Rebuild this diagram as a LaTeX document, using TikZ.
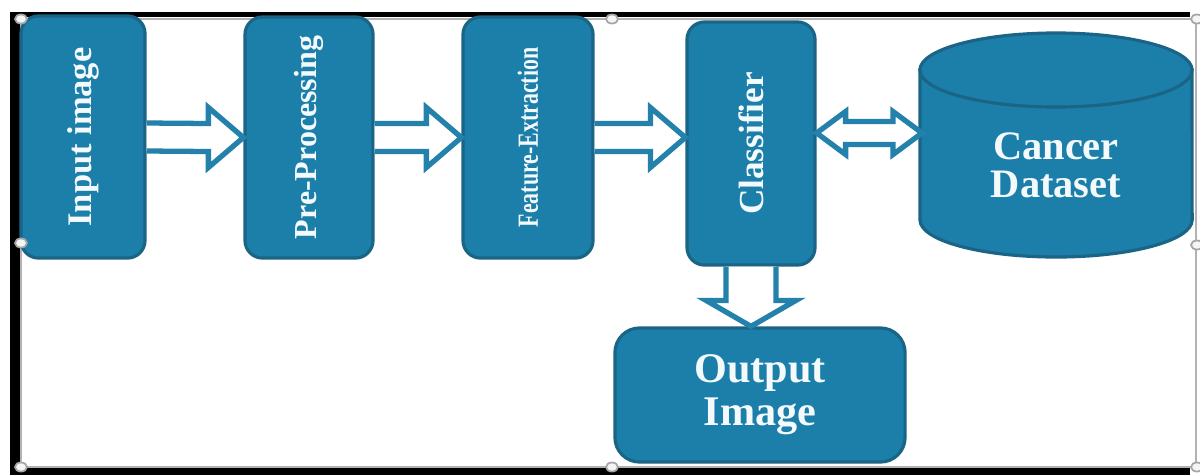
\documentclass[tikz,border=0pt]{standalone}
\usepackage{fontspec}
\setmainfont{Liberation Serif}
\usepackage{graphicx}
\usetikzlibrary{calc}

\definecolor{boxfill}{HTML}{1B7FAA}
\definecolor{boxedge}{HTML}{1A6485}
\definecolor{arrowline}{HTML}{2381AB}
\definecolor{boxtext}{HTML}{F4FAFC}

\begin{document}
\begin{tikzpicture}[x=0.01cm, y=0.01cm,
  stage/.style={draw=boxedge, line width=0.9pt, fill=boxfill, rounded corners=5pt, text=boxtext, inner sep=0pt, font=\bfseries},
  dbbody/.style={draw=boxedge, line width=0.9pt, fill=boxfill},
  hollow/.style={draw=arrowline, line width=1.5pt, fill=white},
  handle/.style={draw=gray!70, fill=gray!8, line width=0.5pt}
]
\useasboundingbox (0,0) rectangle (1200,-475);

% ---------- frame of the screenshot ----------
\fill[black] (10,-12) rectangle (1190,-475);
\fill[white] (20,-17) rectangle (1200,-467);
\draw[gray!60, line width=0.6pt] (21,-19) rectangle (1196,-467);

% ---------- pipeline stages ----------
\node[stage, minimum width=1.24cm, minimum height=2.42cm] (inp) at (83,-137)
  {\rotatebox{90}{\fontsize{9.8}{11}\selectfont Input image}};
\node[stage, minimum width=1.28cm, minimum height=2.41cm] (pre) at (309,-137.5)
  {\rotatebox{90}{\fontsize{9.1}{11}\selectfont Pre-Processing}};
\node[stage, minimum width=1.30cm, minimum height=2.41cm] (feat) at (528,-137.5)
  {\rotatebox{90}{\scalebox{0.75}[1]{\fontsize{8.3}{10}\selectfont Feature-Extraction}}};
\node[stage, minimum width=1.28cm, minimum height=2.43cm] (clf) at (751,-143.5)
  {\rotatebox{90}{\fontsize{10}{12}\selectfont Classifier}};

% database cylinder
\draw[dbbody] (920,-70) -- (920,-220)
  arc[start angle=180, end angle=360, x radius=1.36cm, y radius=0.37cm] -- (1192,-70) -- cycle;
\draw[dbbody] (1056,-70) ellipse [x radius=1.36cm, y radius=0.37cm];
\node[font=\bfseries\fontsize{11.5}{10.8}\selectfont, text=boxtext, align=center] (data) at (1056,-165)
  {Cancer\\Dataset};
\coordinate (dbleft) at (922,-133);

\node[stage, minimum width=2.9cm, minimum height=1.34cm, rounded corners=7pt, align=center,
  font=\bfseries\fontsize{12}{12.2}\selectfont] (out) at (760,-395) {Output\\Image};

% ---------- hollow block arrows ----------
\draw[hollow] ($(inp.east)+(0,14)$) -- ($(pre.west)+(-35,14)$) -- ++(0,16) -- (pre.west)
  -- ++(-35,-30) -- ++(0,16) -- ($(inp.east)+(0,-14)$);
\draw[hollow] ($(pre.east)+(0,14)$) -- ($(feat.west)+(-35,14)$) -- ++(0,16) -- (feat.west)
  -- ++(-35,-30) -- ++(0,16) -- ($(pre.east)+(0,-14)$);
\draw[hollow] ($(feat.east)+(0,14)$) -- ($(feat.east-|clf.west)+(-35,14)$) -- ++(0,16) -- (feat.east-|clf.west)
  -- ++(-35,-30) -- ++(0,16) -- ($(feat.east)+(0,-14)$);

% classifier <-> dataset
\draw[hollow] (dbleft-|clf.east) -- ++(29,21.5) -- ++(0,-10) -- ($(dbleft)+(-29,11.5)$) -- ++(0,10)
  -- (dbleft) -- ++(-29,-21.5) -- ++(0,10) -- ($(dbleft-|clf.east)+(29,-11.5)$) -- ++(0,-10) -- cycle;

% classifier -> output
\draw[hollow] ($(clf.south)+(-25,0)$) -- ($(clf.south|-out.north)+(-25,26)$) -- ++(-20,0)
  -- (clf.south|-out.north) -- ++(45,26) -- ++(-20,0) -- ($(clf.south)+(25,0)$);

% ---------- selection handles ----------
\foreach \hx/\hy in {21/19, 21/243, 612/19, 1197/19, 1197/245, 21/467, 612/467, 1197/467}
  \draw[handle] (\hx,-\hy) ellipse [x radius=0.06cm, y radius=0.045cm];

\end{tikzpicture}
\end{document}
